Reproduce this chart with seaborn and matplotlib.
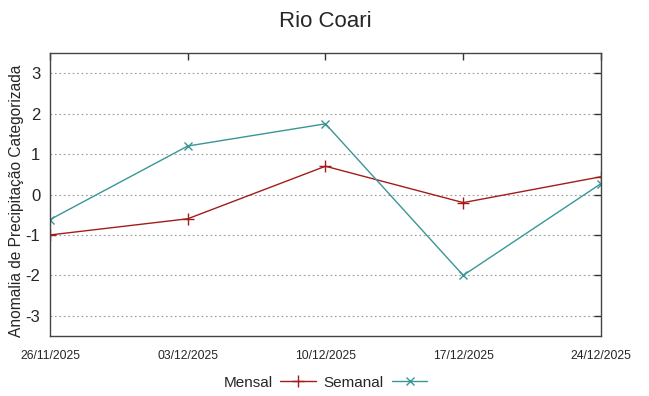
import matplotlib
matplotlib.use("Agg")
import matplotlib.pyplot as plt
import matplotlib.dates as mdates
import seaborn as sns
import pandas as pd
import numpy as np

# dados
datas = ["2025-11-26", "2025-12-03", "2025-12-10", "2025-12-17", "2025-12-24"]
mensal = [-1.0, -0.6, 0.7, -0.2, 0.44]
semanal = [-0.62, 1.2, 1.75, -2.0, 0.27]
yticks = [-3, -2, -1, 0, 1, 2, 3]

cor_mensal = "#a31c1c"
cor_semanal = "#3a9696"


def main():
    sns.set_style("white")
    plt.rcParams['font.family'] = ['Liberation Sans', 'DejaVu Sans']
    plt.rcParams['axes.unicode_minus'] = False

    df = pd.DataFrame({"data": pd.to_datetime(datas), "Mensal": mensal, "Semanal": semanal})

    fig = plt.figure(figsize=(6.49, 3.96), dpi=100)
    ax = fig.add_axes([0.077, 0.1515, 0.849, 0.7145])

    sns.lineplot(data=df, x="data", y="Mensal", ax=ax, color=cor_mensal, marker="+",
                 markersize=8, markeredgewidth=1, markeredgecolor=cor_mensal,
                 linewidth=1, label="Mensal")
    sns.lineplot(data=df, x="data", y="Semanal", ax=ax, color=cor_semanal, marker="x",
                 markersize=6, markeredgewidth=1, markeredgecolor=cor_semanal,
                 linewidth=1, label="Semanal")

    ax.set_xlim(df["data"].iloc[0], df["data"].iloc[-1])
    ax.set_ylim(-3.5, 3.5)
    ax.set_xticks(df["data"])
    ax.xaxis.set_major_formatter(mdates.DateFormatter("%d/%m/%Y"))
    ax.set_yticks(yticks)
    ax.yaxis.grid(True, linestyle=(0, (1.5, 2.5)), color="#999999", linewidth=0.8)
    ax.xaxis.grid(False)

    ax.tick_params(axis="both", direction="in", length=5, width=1, color="#333333",
                   top=True, right=True)
    ax.tick_params(axis="y", labelsize=12, pad=7)
    ax.tick_params(axis="x", labelsize=8.7, pad=10)
    for s in ax.spines.values():
        s.set_color("#444444")
        s.set_linewidth(1)

    ax.set_xlabel("")
    ax.set_ylabel("Anomalia de Precipitação Categorizada", fontsize=11.2)
    ax.yaxis.set_label_coords(-0.047, 0.478)
    ax.set_title("Rio Coari", fontsize=16, pad=19)

    ax.legend(loc="center", bbox_to_anchor=(0.5, -0.165), ncol=2, frameon=False,
              markerfirst=False, fontsize=11, handlelength=2.35, columnspacing=0.5,
              handletextpad=0.5)

    plt.savefig("out.png", dpi=100)


if __name__ == '__main__':
    main()
